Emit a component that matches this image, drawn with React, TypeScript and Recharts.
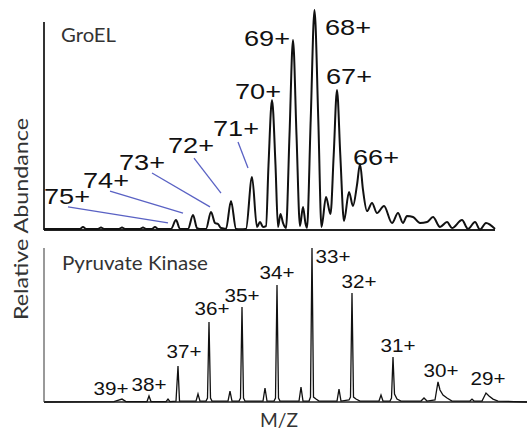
import React from 'react'
import { ComposedChart, Line, Scatter, XAxis, YAxis, ReferenceLine } from 'recharts'

// m/z given in arbitrary units from the axis origin, abundance in % of the tallest peak

// GroEL spectrum [m/z, abundance]
const groelPoints: [number, number][] = [
  [0, 0.5], [36, 0.5], [39, 1.4], [42, 0.5], [54, 0.5], [57, 1.1], [60, 0.5],
  [75, 0.5], [78, 1.1], [81, 0.5], [96, 0.5], [99, 1.1], [102, 0.5],
  [108, 0.5], [111, 1.4], [114, 0.5], [127, 0.5], [132, 4.5], [136, 0.5],
  [144, 0.5], [149, 6.8], [153, 0.9], [156, 0.5], [162, 0.5], [167, 8.2],
  [171, 3.2], [174, 2.7], [177, 0.9], [182, 0.5], [187, 13.2], [192, 0.5],
  [196, 0.3], [202, 0.5], [208, 24.1], [213, 1.4], [216, 3.6], [219, 1.4],
  [222, 1.8], [224.5, 29.5], [228, 59.1], [231.5, 29.5], [234, 1.4],
  [236.5, 7.3], [239, 3.2], [242, 0.9], [245.5, 43.2], [249, 86.4], [252.5, 43.2],
  [256, 1.8], [259, 10.5], [261.5, 3], [263, 1], [266.7, 50], [270.5, 100],
  [274.3, 50], [277.5, 1.4], [282, 15], [286.5, 7.3], [289.7, 34.1], [293, 63.6],
  [296.3, 34.1], [300, 4.1], [305, 17.3], [309, 10.9], [313, 20.5], [316, 30],
  [319, 18.2], [323, 8.6], [328, 12.3], [333, 7.7], [340, 10.9], [348, 3.2],
  [354, 7.7], [359, 3.2], [363, 6.4], [369, 5.9], [376, 3.2], [383, 3.6],
  [389, 5.9], [396, 1.4], [403, 3.6], [408, 0.9], [418, 4.5], [424, 0.5],
  [431, 3.6], [436, 0.2], [442, 3.2], [451, 0.5],
]

// GroEL charge state labels [charge, m/z, abundance]
const groelLabels: [string, number, number][] = [
  ['75+', 23, 15.5], ['74+', 62, 22.7], ['73+', 98, 30.9], ['72+', 147, 38.6],
  ['71+', 192, 46.4], ['70+', 214, 63.2], ['69+', 223, 87.3], ['68+', 304, 92.3],
  ['67+', 305, 70], ['66+', 332, 33.2],
]

// leader lines for the small GroEL peaks [from m/z, from ab, to m/z, to ab]
const groelLeaders: [number, number, number, number][] = [
  [24, 10.5, 124, 3.2],
  [66, 17.7, 139, 7.7],
  [108, 25.9, 166, 10.5],
  [150, 32.7, 177, 16.8],
  [194, 40, 204, 28.2],
]

// Pyruvate kinase spectrum [m/z, abundance]
const pkPoints: [number, number][] = [
  [0, 0], [70, 0.3], [78, 1.9], [82, 0.3], [103, 0.3], [105, 3.9], [107, 0.3],
  [122, 0.3], [124, 1.9], [126, 0.3], [132, 0.6], [134, 23.4], [135.5, 0.6],
  [152, 0.6], [154, 5.2], [156, 0.6], [162, 0.6], [163.5, 2.6], [165, 51.9],
  [166.5, 2.6], [168, 0.6], [184, 0.6], [186, 7.1], [188, 0.6], [195, 0.6],
  [196.5, 2.6], [198, 61.7], [199.5, 2.6], [201, 0.6], [219, 0.6], [221, 9.1],
  [223, 0.6], [230, 0.6], [231.5, 2.6], [233, 75.9], [234.5, 2.6], [236, 0.6],
  [255, 0.6], [257, 9.7], [259, 0.6], [265, 0.6], [266.5, 3.2], [268, 100],
  [269.5, 3.2], [272, 1.9], [275, 0.6], [293, 0.6], [295, 8.4], [297, 0.6],
  [305, 1.3], [306.5, 3.2], [308, 70.8], [309.5, 3.2], [312, 1.9], [316, 0.6],
  [335, 0.6], [337, 4.5], [339, 0.6], [346, 0.6], [347.5, 2.6], [349, 29.2],
  [350.5, 5.2], [353, 1.9], [357, 0.6], [377, 0.6], [380, 2.6], [383, 0.6],
  [391, 1.3], [394, 13], [396, 7.8], [399, 4.5], [403, 2.6], [408, 0.6],
  [426, 0.6], [428, 1.9], [430, 0.6], [438, 0.6], [442, 5.8], [445, 3.9],
  [449, 1.9], [454, 0.6], [470, 0.3], [483, 0],
]

const pkLabels: [string, number, number][] = [
  ['39+', 67, 9.1], ['38+', 105, 11.7], ['37+', 140, 33.1], ['36+', 168, 61],
  ['35+', 198, 69.5], ['34+', 233, 84.4], ['33+', 289, 94.8], ['32+', 315, 78.6],
  ['31+', 354, 37], ['30+', 397, 20.8], ['29+', 444, 15.6],
]

const toRows = (pts: [number, number][]) => pts.map(([mz, ab]) => ({ mz, ab }))
const toLabelRows = (ls: [string, number, number][]) => ls.map(([label, mz, ab]) => ({ label, mz, ab }))

const labelShape = (size: number, len: number) => (p: any) => (
  <text
    x={p.cx}
    y={p.cy + size * 0.358}
    textAnchor="middle"
    fontSize={size}
    fontFamily="'Liberation Sans', Arial, sans-serif"
    fill="#111"
    textLength={len}
    lengthAdjust="spacingAndGlyphs"
  >
    {p.payload.label}
  </text>
)

export default function App() {
  const groel = toRows(groelPoints)
  const pk = toRows(pkPoints)

  return (
    <div style={{ position: 'absolute', left: 0, top: 0, width: 527, height: 429, background: '#fff' }}>
      {/* GroEL */}
      <div style={{ position: 'absolute', left: 0, top: 0 }}>
        <ComposedChart width={527} height={240} margin={{ top: 10, right: 32, bottom: 10, left: 44 }}>
          <XAxis hide type="number" dataKey="mz" domain={[0, 451]} />
          <YAxis hide type="number" dataKey="ab" domain={[0, 100]} />
          <ReferenceLine segment={[{ x: 0, y: 0 }, { x: 451, y: 0 }]} stroke="#222" strokeWidth={2} />
          <ReferenceLine segment={[{ x: 0, y: 0 }, { x: 0, y: 94.5 }]} stroke="#333" strokeWidth={2} />
          {groelLeaders.map(([x1, y1, x2, y2], i) => (
            <ReferenceLine key={i} segment={[{ x: x1, y: y1 }, { x: x2, y: y2 }]} stroke="#5a62c4" strokeWidth={1.3} />
          ))}
          <Line
            data={groel}
            dataKey="ab"
            type="monotone"
            stroke="#111"
            strokeWidth={2}
            dot={false}
            activeDot={false}
            isAnimationActive={false}
          />
          <Scatter
            data={toLabelRows(groelLabels)}
            dataKey="ab"
            shape={labelShape(22, 46)}
            isAnimationActive={false}
          />
        </ComposedChart>
      </div>

      {/* Pyruvate kinase */}
      <div style={{ position: 'absolute', left: 0, top: 235 }}>
        <ComposedChart width={527} height={180} margin={{ top: 13, right: 0, bottom: 13, left: 44 }}>
          <XAxis hide type="number" dataKey="mz" domain={[0, 483]} />
          <YAxis hide type="number" dataKey="ab" domain={[0, 100]} />
          <ReferenceLine segment={[{ x: 0, y: 0 }, { x: 483, y: 0 }]} stroke="#222" strokeWidth={1.5} />
          <ReferenceLine segment={[{ x: 0, y: 0 }, { x: 0, y: 100 }]} stroke="#999" strokeWidth={2} />
          <Line
            data={pk}
            dataKey="ab"
            type="linear"
            stroke="#111"
            strokeWidth={1.3}
            dot={false}
            activeDot={false}
            isAnimationActive={false}
          />
          <Scatter
            data={toLabelRows(pkLabels)}
            dataKey="ab"
            shape={labelShape(18.5, 35)}
            isAnimationActive={false}
          />
        </ComposedChart>
      </div>

      {/* titles and axis captions */}
      <svg width={527} height={429} style={{ position: 'absolute', left: 0, top: 0, pointerEvents: 'none' }}>
        <g fontFamily="Lato, 'Open Sans', sans-serif" fill="#333" fontSize={19}>
          <text x={61} y={41.5} textLength={55} lengthAdjust="spacingAndGlyphs">GroEL</text>
          <text x={62} y={270} textLength={146} lengthAdjust="spacingAndGlyphs">Pyruvate Kinase</text>
          <text x={260} y={426.5} textLength={38} lengthAdjust="spacingAndGlyphs">M/Z</text>
          <text
            x={0}
            y={0}
            transform="translate(28 219) rotate(-90)"
            textAnchor="middle"
            textLength={202}
            lengthAdjust="spacingAndGlyphs"
          >
            Relative Abundance
          </text>
        </g>
      </svg>
    </div>
  )
}
